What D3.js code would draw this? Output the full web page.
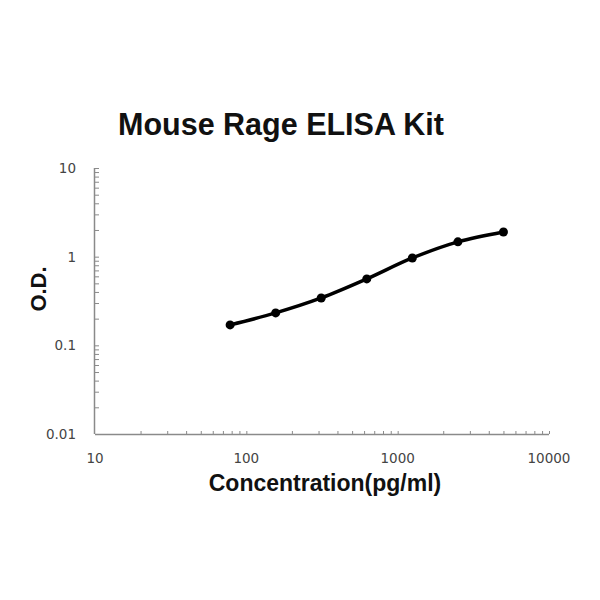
<!DOCTYPE html>
<html><head><meta charset="utf-8">
<script src="https://cdn.jsdelivr.net/npm/d3@7"></script>
<style>body{margin:0;background:#fff}</style>
</head><body>
<script>
const title = "Mouse Rage ELISA Kit";
const xLabel = "Concentration(pg/ml)";
const yLabel = "O.D.";
const concentrations = [78.125, 156.25, 312.5, 625, 1250, 2500, 5000];
const odValues = [0.170, 0.232, 0.342, 0.561, 0.967, 1.47, 1.90];
const xTickValues = [10, 100, 1000, 10000];
const yTickValues = [0.01, 0.1, 1, 10];
const xTickLabels = ["10", "100", "1000", "10000"];
const yTickLabels = ["0.01", "0.1", "1", "10"];

const W = 600, H = 600;
const svg = d3.select("body").append("svg").attr("width", W).attr("height", H);
svg.append("rect").attr("width", W).attr("height", H).attr("fill", "#fff");

const x = d3.scaleLog().domain([10, 10000]).range([95, 549]);
const y = d3.scaleLog().domain([0.01, 10]).range([434, 168]);

const minorX = [], minorY = [];
for (let d = 10; d < 10000; d *= 10) for (let k = 2; k <= 10; k++) minorX.push(d * k);
for (let d = 0.01; d < 10; d *= 10) for (let k = 2; k <= 10; k++) minorY.push(+(d * k).toPrecision(3));

const axisColor = "#8a8a8a";
const gx = svg.append("g").attr("transform", "translate(0,434)");
gx.call(d3.axisBottom(x).tickValues(minorX).tickSize(-3).tickFormat(""));
const gy = svg.append("g").attr("transform", "translate(95,0)");
gy.call(d3.axisLeft(y).tickValues(minorY).tickSize(-4).tickFormat(""));
[gx, gy].forEach(g => {
  g.selectAll("path").attr("stroke", axisColor).attr("stroke-width", 1.5);
  g.selectAll("line").attr("stroke", axisColor).attr("stroke-width", 1);
});
gx.select("path.domain").attr("d", "M95,0.5H549");
gy.select("path.domain").attr("d", "M-0.5,168V434");

const tickFont = "DejaVu Sans, Verdana, sans-serif";
svg.append("g").selectAll("text").data(xTickValues).join("text")
  .attr("x", d => x(d)).attr("y", 463)
  .attr("text-anchor", "middle")
  .attr("font-family", tickFont)
  .attr("font-size", 13.5).attr("fill", "#444")
  .text((d, i) => xTickLabels[i]);
svg.append("g").selectAll("text").data(yTickValues).join("text")
  .attr("x", 76).attr("y", d => y(d) + 5)
  .attr("text-anchor", "end")
  .attr("font-family", tickFont)
  .attr("font-size", 13.5).attr("fill", "#444")
  .text((d, i) => yTickLabels[i]);

const pts = concentrations.map((c, i) => [c, odValues[i]]);
const line = d3.line().x(d => x(d[0])).y(d => y(d[1])).curve(d3.curveCatmullRom.alpha(0.5));
svg.append("path").datum(pts).attr("d", line)
  .attr("fill", "none").attr("stroke", "#000").attr("stroke-width", 3.5);
svg.append("g").selectAll("circle").data(pts).join("circle")
  .attr("cx", d => x(d[0])).attr("cy", d => y(d[1])).attr("r", 4.5).attr("fill", "#000");

svg.append("text").attr("x", 281).attr("y", 135).attr("text-anchor", "middle")
  .attr("font-family", "Liberation Sans, Arial, sans-serif").attr("font-weight", "bold")
  .attr("font-size", 30.5).attr("fill", "#111").text(title);
svg.append("text").attr("x", 325).attr("y", 491).attr("text-anchor", "middle")
  .attr("font-family", "Liberation Sans, Arial, sans-serif").attr("font-weight", "bold")
  .attr("font-size", 23).attr("fill", "#111").text(xLabel);
svg.append("text").attr("transform", "translate(46,289) rotate(-90)").attr("text-anchor", "middle")
  .attr("font-family", "Liberation Sans, Arial, sans-serif").attr("font-weight", "bold")
  .attr("font-size", 22).attr("fill", "#111").text(yLabel);
</script>
</body></html>
